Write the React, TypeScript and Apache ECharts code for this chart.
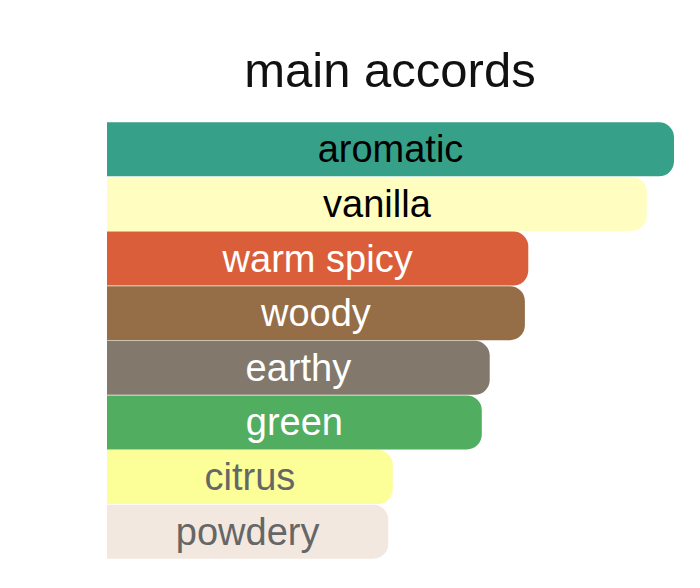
import React, { useEffect, useRef } from "react";
import * as echarts from "echarts";

// accords, top to bottom
const accords = [
  "aromatic",
  "vanilla",
  "warm spicy",
  "woody",
  "earthy",
  "green",
  "citrus",
  "powdery",
];

// relative strength (longest bar = 100)
const strengths = [100, 95.2, 74.3, 73.7, 67.5, 66.1, 50.4, 49.6];

const barColors = [
  "#37a089",
  "#fffec0",
  "#d95e39",
  "#956d46",
  "#83786c",
  "#51ad5f",
  "#fcfe98",
  "#f3e8df",
];

const labelColors = [
  "#000000",
  "#000000",
  "#ffffff",
  "#ffffff",
  "#ffffff",
  "#ffffff",
  "#666666",
  "#666666",
];

const FONT = "'Liberation Sans', Arial, Helvetica, sans-serif";

export default function App() {
  const chartRef = useRef<HTMLDivElement>(null);

  useEffect(() => {
    document.body.style.margin = "0";
    if (!chartRef.current) return;
    const chart = echarts.init(chartRef.current, undefined, { renderer: "svg" });

    chart.setOption({
      animation: false,
      backgroundColor: "#ffffff",
      title: {
        text: "main accords",
        left: 385,
        top: 40,
        textAlign: "center",
        textStyle: {
          fontFamily: FONT,
          fontSize: 49,
          fontWeight: "normal",
          color: "#111111",
        },
      },
      grid: { left: 107, right: 26, top: 122, bottom: 29 },
      xAxis: {
        type: "value",
        min: 0,
        max: 100,
        show: false,
      },
      yAxis: {
        type: "category",
        data: accords,
        inverse: true,
        show: false,
      },
      series: [
        {
          type: "bar",
          barCategoryGap: "1%",
          data: strengths.map((v, i) => ({
            value: v,
            itemStyle: { color: barColors[i] },
            label: { color: labelColors[i] },
          })),
          itemStyle: { borderRadius: [0, 15, 15, 0] },
          label: {
            show: true,
            position: "inside",
            formatter: (p: any) => accords[p.dataIndex],
            fontFamily: FONT,
            fontSize: 38,
          },
        },
      ],
    });

    return () => {
      chart.dispose();
    };
  }, []);

  return <div ref={chartRef} style={{ width: 700, height: 588 }} />;
}
